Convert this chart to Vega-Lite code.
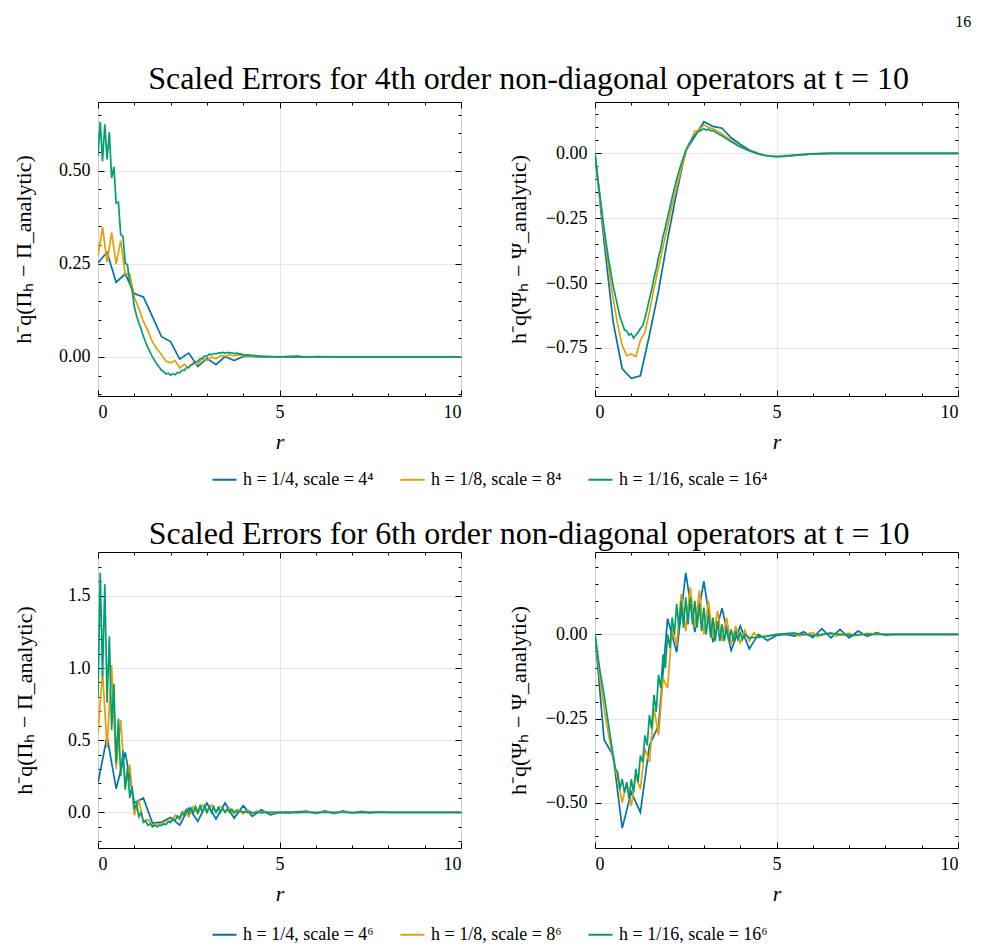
{
"$schema": "https://vega.github.io/schema/vega-lite/v6.json",
"background": "white",
"padding": {"left": 12, "top": 14, "right": 8, "bottom": 5},
"title": {"text": "16", "anchor": "end", "fontSize": 16, "offset": 33, "dx": 10},
"config": {
 "font": "Liberation Serif",
 "view": {"stroke": "black", "strokeWidth": 1},
 "axis": {"labelFont": "Liberation Serif", "titleFont": "Liberation Serif", "labelColor": "black", "titleColor": "black", "tickColor": "black", "tickWidth": 1, "gridColor": "#e4e4e4", "gridWidth": 0.9, "domain": false, "titleFontWeight": "normal", "labelFontSize": 18, "titleFontSize": 22},
 "legend": {"labelFont": "Liberation Serif", "labelFontSize": 18, "labelColor": "black", "symbolType": "stroke", "symbolStrokeWidth": 2, "symbolSize": 580, "columnPadding": 22, "labelOffset": 5, "labelLimit": 400, "orient": "none", "legendX": 113, "legendY": 364, "direction": "horizontal", "title": null},
 "title": {"font": "Liberation Serif", "fontWeight": "normal", "color": "black"}
},
"data": {"values": [
{"p":"A","s":"a","r":0,"v":0.252},{"p":"A","s":"a","r":0.25,"v":0.281},{"p":"A","s":"a","r":0.5,"v":0.2},{"p":"A","s":"a","r":0.75,"v":0.223},{"p":"A","s":"a","r":1,"v":0.17},{"p":"A","s":"a","r":1.25,"v":0.161},{"p":"A","s":"a","r":1.5,"v":0.108},{"p":"A","s":"a","r":1.75,"v":0.054},{"p":"A","s":"a","r":2,"v":0.041},{"p":"A","s":"a","r":2.25,"v":-0.006},{"p":"A","s":"a","r":2.5,"v":0.01},{"p":"A","s":"a","r":2.75,"v":-0.026},{"p":"A","s":"a","r":3,"v":-0.004},{"p":"A","s":"a","r":3.25,"v":-0.021},{"p":"A","s":"a","r":3.5,"v":0.001},{"p":"A","s":"a","r":3.75,"v":-0.01},{"p":"A","s":"a","r":4,"v":0.001},{"p":"A","s":"a","r":4.25,"v":0.001},{"p":"A","s":"a","r":4.5,"v":0},{"p":"A","s":"a","r":5,"v":0},{"p":"A","s":"a","r":5.5,"v":0.002},{"p":"A","s":"a","r":5.75,"v":-0.001},{"p":"A","s":"a","r":6,"v":0.001},{"p":"A","s":"a","r":6.5,"v":0},{"p":"A","s":"a","r":10,"v":0},
{"p":"A","s":"b","r":0,"v":0.27},{"p":"A","s":"b","r":0.125,"v":0.348},{"p":"A","s":"b","r":0.25,"v":0.254},{"p":"A","s":"b","r":0.375,"v":0.334},{"p":"A","s":"b","r":0.5,"v":0.249},{"p":"A","s":"b","r":0.625,"v":0.312},{"p":"A","s":"b","r":0.75,"v":0.222},{"p":"A","s":"b","r":0.875,"v":0.222},{"p":"A","s":"b","r":1,"v":0.16},{"p":"A","s":"b","r":1.125,"v":0.13},{"p":"A","s":"b","r":1.25,"v":0.095},{"p":"A","s":"b","r":1.375,"v":0.07},{"p":"A","s":"b","r":1.5,"v":0.04},{"p":"A","s":"b","r":1.625,"v":0.022},{"p":"A","s":"b","r":1.75,"v":0.006},{"p":"A","s":"b","r":1.875,"v":-0.012},{"p":"A","s":"b","r":2,"v":-0.016},{"p":"A","s":"b","r":2.125,"v":-0.01},{"p":"A","s":"b","r":2.25,"v":-0.03},{"p":"A","s":"b","r":2.375,"v":-0.02},{"p":"A","s":"b","r":2.5,"v":-0.03},{"p":"A","s":"b","r":2.625,"v":-0.015},{"p":"A","s":"b","r":2.75,"v":-0.02},{"p":"A","s":"b","r":2.875,"v":-0.005},{"p":"A","s":"b","r":3,"v":-0.01},{"p":"A","s":"b","r":3.125,"v":0},{"p":"A","s":"b","r":3.25,"v":-0.005},{"p":"A","s":"b","r":3.375,"v":0.003},{"p":"A","s":"b","r":3.5,"v":0.002},{"p":"A","s":"b","r":3.625,"v":0.005},{"p":"A","s":"b","r":3.75,"v":0.003},{"p":"A","s":"b","r":3.875,"v":0.005},{"p":"A","s":"b","r":4,"v":0.003},{"p":"A","s":"b","r":4.25,"v":0.002},{"p":"A","s":"b","r":4.5,"v":0.001},{"p":"A","s":"b","r":5,"v":0},{"p":"A","s":"b","r":10,"v":0},
{"p":"A","s":"c","r":0,"v":0.54},{"p":"A","s":"c","r":0.0625,"v":0.63},{"p":"A","s":"c","r":0.125,"v":0.525},{"p":"A","s":"c","r":0.1875,"v":0.624},{"p":"A","s":"c","r":0.25,"v":0.53},{"p":"A","s":"c","r":0.3125,"v":0.603},{"p":"A","s":"c","r":0.375,"v":0.48},{"p":"A","s":"c","r":0.4375,"v":0.51},{"p":"A","s":"c","r":0.5,"v":0.413},{"p":"A","s":"c","r":0.5625,"v":0.415},{"p":"A","s":"c","r":0.625,"v":0.328},{"p":"A","s":"c","r":0.6875,"v":0.323},{"p":"A","s":"c","r":0.75,"v":0.252},{"p":"A","s":"c","r":0.8125,"v":0.247},{"p":"A","s":"c","r":0.875,"v":0.198},{"p":"A","s":"c","r":0.9375,"v":0.18},{"p":"A","s":"c","r":1,"v":0.135},{"p":"A","s":"c","r":1.0625,"v":0.11},{"p":"A","s":"c","r":1.125,"v":0.09},{"p":"A","s":"c","r":1.1875,"v":0.075},{"p":"A","s":"c","r":1.25,"v":0.055},{"p":"A","s":"c","r":1.3125,"v":0.04},{"p":"A","s":"c","r":1.375,"v":0.025},{"p":"A","s":"c","r":1.4375,"v":0.012},{"p":"A","s":"c","r":1.5,"v":0},{"p":"A","s":"c","r":1.5625,"v":-0.01},{"p":"A","s":"c","r":1.625,"v":-0.02},{"p":"A","s":"c","r":1.6875,"v":-0.028},{"p":"A","s":"c","r":1.75,"v":-0.036},{"p":"A","s":"c","r":1.8125,"v":-0.04},{"p":"A","s":"c","r":1.875,"v":-0.046},{"p":"A","s":"c","r":1.9375,"v":-0.044},{"p":"A","s":"c","r":2,"v":-0.049},{"p":"A","s":"c","r":2.0625,"v":-0.045},{"p":"A","s":"c","r":2.125,"v":-0.048},{"p":"A","s":"c","r":2.1875,"v":-0.042},{"p":"A","s":"c","r":2.25,"v":-0.043},{"p":"A","s":"c","r":2.3125,"v":-0.036},{"p":"A","s":"c","r":2.375,"v":-0.036},{"p":"A","s":"c","r":2.4375,"v":-0.029},{"p":"A","s":"c","r":2.5,"v":-0.028},{"p":"A","s":"c","r":2.5625,"v":-0.021},{"p":"A","s":"c","r":2.625,"v":-0.02},{"p":"A","s":"c","r":2.6875,"v":-0.013},{"p":"A","s":"c","r":2.75,"v":-0.012},{"p":"A","s":"c","r":2.8125,"v":-0.005},{"p":"A","s":"c","r":2.875,"v":-0.004},{"p":"A","s":"c","r":2.9375,"v":0.002},{"p":"A","s":"c","r":3,"v":0.002},{"p":"A","s":"c","r":3.0625,"v":0.007},{"p":"A","s":"c","r":3.125,"v":0.006},{"p":"A","s":"c","r":3.1875,"v":0.009},{"p":"A","s":"c","r":3.25,"v":0.008},{"p":"A","s":"c","r":3.3125,"v":0.011},{"p":"A","s":"c","r":3.375,"v":0.01},{"p":"A","s":"c","r":3.4375,"v":0.012},{"p":"A","s":"c","r":3.5,"v":0.01},{"p":"A","s":"c","r":3.5625,"v":0.012},{"p":"A","s":"c","r":3.625,"v":0.01},{"p":"A","s":"c","r":3.6875,"v":0.011},{"p":"A","s":"c","r":3.75,"v":0.009},{"p":"A","s":"c","r":3.8125,"v":0.01},{"p":"A","s":"c","r":3.875,"v":0.008},{"p":"A","s":"c","r":3.9375,"v":0.008},{"p":"A","s":"c","r":4,"v":0.006},{"p":"A","s":"c","r":4.25,"v":0.004},{"p":"A","s":"c","r":4.5,"v":0.002},{"p":"A","s":"c","r":4.75,"v":0.001},{"p":"A","s":"c","r":5,"v":0},{"p":"A","s":"c","r":10,"v":0},

{"p":"B","s":"a","r":0,"v":0},{"p":"B","s":"a","r":0.25,"v":-0.34},{"p":"B","s":"a","r":0.5,"v":-0.65},{"p":"B","s":"a","r":0.75,"v":-0.83},{"p":"B","s":"a","r":1,"v":-0.867},{"p":"B","s":"a","r":1.25,"v":-0.857},{"p":"B","s":"a","r":1.5,"v":-0.7},{"p":"B","s":"a","r":1.75,"v":-0.53},{"p":"B","s":"a","r":2,"v":-0.33},{"p":"B","s":"a","r":2.25,"v":-0.15},{"p":"B","s":"a","r":2.5,"v":0.01},{"p":"B","s":"a","r":2.75,"v":0.065},{"p":"B","s":"a","r":3,"v":0.122},{"p":"B","s":"a","r":3.25,"v":0.104},{"p":"B","s":"a","r":3.5,"v":0.097},{"p":"B","s":"a","r":3.75,"v":0.06},{"p":"B","s":"a","r":4,"v":0.035},{"p":"B","s":"a","r":4.25,"v":0.013},{"p":"B","s":"a","r":4.5,"v":-0.001},{"p":"B","s":"a","r":4.75,"v":-0.01},{"p":"B","s":"a","r":5,"v":-0.013},{"p":"B","s":"a","r":5.25,"v":-0.012},{"p":"B","s":"a","r":5.5,"v":-0.008},{"p":"B","s":"a","r":5.75,"v":-0.005},{"p":"B","s":"a","r":6,"v":-0.002},{"p":"B","s":"a","r":6.5,"v":0},{"p":"B","s":"a","r":10,"v":0},
{"p":"B","s":"b","r":0,"v":0},{"p":"B","s":"b","r":0.125,"v":-0.16},{"p":"B","s":"b","r":0.25,"v":-0.31},{"p":"B","s":"b","r":0.375,"v":-0.44},{"p":"B","s":"b","r":0.5,"v":-0.56},{"p":"B","s":"b","r":0.625,"v":-0.66},{"p":"B","s":"b","r":0.75,"v":-0.74},{"p":"B","s":"b","r":0.875,"v":-0.78},{"p":"B","s":"b","r":1,"v":-0.773},{"p":"B","s":"b","r":1.125,"v":-0.783},{"p":"B","s":"b","r":1.25,"v":-0.72},{"p":"B","s":"b","r":1.375,"v":-0.69},{"p":"B","s":"b","r":1.5,"v":-0.61},{"p":"B","s":"b","r":1.625,"v":-0.52},{"p":"B","s":"b","r":1.75,"v":-0.44},{"p":"B","s":"b","r":1.875,"v":-0.36},{"p":"B","s":"b","r":2,"v":-0.28},{"p":"B","s":"b","r":2.125,"v":-0.2},{"p":"B","s":"b","r":2.25,"v":-0.13},{"p":"B","s":"b","r":2.375,"v":-0.06},{"p":"B","s":"b","r":2.5,"v":0.005},{"p":"B","s":"b","r":2.625,"v":0.04},{"p":"B","s":"b","r":2.75,"v":0.085},{"p":"B","s":"b","r":2.875,"v":0.09},{"p":"B","s":"b","r":3,"v":0.11},{"p":"B","s":"b","r":3.125,"v":0.1},{"p":"B","s":"b","r":3.25,"v":0.095},{"p":"B","s":"b","r":3.375,"v":0.085},{"p":"B","s":"b","r":3.5,"v":0.075},{"p":"B","s":"b","r":3.625,"v":0.062},{"p":"B","s":"b","r":3.75,"v":0.05},{"p":"B","s":"b","r":3.875,"v":0.038},{"p":"B","s":"b","r":4,"v":0.027},{"p":"B","s":"b","r":4.25,"v":0.01},{"p":"B","s":"b","r":4.5,"v":-0.003},{"p":"B","s":"b","r":4.75,"v":-0.01},{"p":"B","s":"b","r":5,"v":-0.012},{"p":"B","s":"b","r":5.25,"v":-0.011},{"p":"B","s":"b","r":5.5,"v":-0.007},{"p":"B","s":"b","r":6,"v":-0.002},{"p":"B","s":"b","r":6.5,"v":0},{"p":"B","s":"b","r":10,"v":0},
{"p":"B","s":"c","r":0,"v":0},{"p":"B","s":"c","r":0.0625,"v":-0.08},{"p":"B","s":"c","r":0.125,"v":-0.15},{"p":"B","s":"c","r":0.1875,"v":-0.22},{"p":"B","s":"c","r":0.25,"v":-0.29},{"p":"B","s":"c","r":0.3125,"v":-0.35},{"p":"B","s":"c","r":0.375,"v":-0.41},{"p":"B","s":"c","r":0.4375,"v":-0.46},{"p":"B","s":"c","r":0.5,"v":-0.51},{"p":"B","s":"c","r":0.5625,"v":-0.55},{"p":"B","s":"c","r":0.625,"v":-0.59},{"p":"B","s":"c","r":0.6875,"v":-0.63},{"p":"B","s":"c","r":0.75,"v":-0.655},{"p":"B","s":"c","r":0.8125,"v":-0.68},{"p":"B","s":"c","r":0.875,"v":-0.685},{"p":"B","s":"c","r":0.9375,"v":-0.7},{"p":"B","s":"c","r":1,"v":-0.695},{"p":"B","s":"c","r":1.0625,"v":-0.712},{"p":"B","s":"c","r":1.125,"v":-0.7},{"p":"B","s":"c","r":1.1875,"v":-0.69},{"p":"B","s":"c","r":1.25,"v":-0.675},{"p":"B","s":"c","r":1.3125,"v":-0.665},{"p":"B","s":"c","r":1.375,"v":-0.635},{"p":"B","s":"c","r":1.4375,"v":-0.6},{"p":"B","s":"c","r":1.5,"v":-0.56},{"p":"B","s":"c","r":1.5625,"v":-0.525},{"p":"B","s":"c","r":1.625,"v":-0.48},{"p":"B","s":"c","r":1.6875,"v":-0.445},{"p":"B","s":"c","r":1.75,"v":-0.4},{"p":"B","s":"c","r":1.8125,"v":-0.365},{"p":"B","s":"c","r":1.875,"v":-0.32},{"p":"B","s":"c","r":1.9375,"v":-0.285},{"p":"B","s":"c","r":2,"v":-0.245},{"p":"B","s":"c","r":2.0625,"v":-0.21},{"p":"B","s":"c","r":2.125,"v":-0.17},{"p":"B","s":"c","r":2.1875,"v":-0.135},{"p":"B","s":"c","r":2.25,"v":-0.1},{"p":"B","s":"c","r":2.3125,"v":-0.07},{"p":"B","s":"c","r":2.375,"v":-0.04},{"p":"B","s":"c","r":2.4375,"v":-0.015},{"p":"B","s":"c","r":2.5,"v":0.01},{"p":"B","s":"c","r":2.5625,"v":0.03},{"p":"B","s":"c","r":2.625,"v":0.045},{"p":"B","s":"c","r":2.6875,"v":0.06},{"p":"B","s":"c","r":2.75,"v":0.07},{"p":"B","s":"c","r":2.8125,"v":0.08},{"p":"B","s":"c","r":2.875,"v":0.085},{"p":"B","s":"c","r":2.9375,"v":0.09},{"p":"B","s":"c","r":3,"v":0.095},{"p":"B","s":"c","r":3.0625,"v":0.09},{"p":"B","s":"c","r":3.125,"v":0.093},{"p":"B","s":"c","r":3.1875,"v":0.088},{"p":"B","s":"c","r":3.25,"v":0.088},{"p":"B","s":"c","r":3.3125,"v":0.082},{"p":"B","s":"c","r":3.375,"v":0.078},{"p":"B","s":"c","r":3.4375,"v":0.072},{"p":"B","s":"c","r":3.5,"v":0.068},{"p":"B","s":"c","r":3.625,"v":0.056},{"p":"B","s":"c","r":3.75,"v":0.045},{"p":"B","s":"c","r":3.875,"v":0.035},{"p":"B","s":"c","r":4,"v":0.025},{"p":"B","s":"c","r":4.25,"v":0.01},{"p":"B","s":"c","r":4.5,"v":-0.002},{"p":"B","s":"c","r":4.75,"v":-0.009},{"p":"B","s":"c","r":5,"v":-0.012},{"p":"B","s":"c","r":5.5,"v":-0.007},{"p":"B","s":"c","r":6,"v":-0.002},{"p":"B","s":"c","r":6.5,"v":0},{"p":"B","s":"c","r":10,"v":0},

{"p":"C","s":"a","r":0,"v":0.203},{"p":"C","s":"a","r":0.25,"v":0.525},{"p":"C","s":"a","r":0.5,"v":0.164},{"p":"C","s":"a","r":0.75,"v":0.415},{"p":"C","s":"a","r":1,"v":0.065},{"p":"C","s":"a","r":1.25,"v":0.1},{"p":"C","s":"a","r":1.5,"v":-0.074},{"p":"C","s":"a","r":1.75,"v":-0.067},{"p":"C","s":"a","r":2,"v":-0.035},{"p":"C","s":"a","r":2.25,"v":-0.088},{"p":"C","s":"a","r":2.5,"v":0.03},{"p":"C","s":"a","r":2.75,"v":-0.062},{"p":"C","s":"a","r":3,"v":0.065},{"p":"C","s":"a","r":3.25,"v":-0.046},{"p":"C","s":"a","r":3.5,"v":0.065},{"p":"C","s":"a","r":3.75,"v":-0.04},{"p":"C","s":"a","r":4,"v":0.046},{"p":"C","s":"a","r":4.25,"v":-0.028},{"p":"C","s":"a","r":4.5,"v":0.018},{"p":"C","s":"a","r":4.75,"v":-0.018},{"p":"C","s":"a","r":5,"v":0},{"p":"C","s":"a","r":5.25,"v":-0.003},{"p":"C","s":"a","r":5.5,"v":0.003},{"p":"C","s":"a","r":5.75,"v":0.008},{"p":"C","s":"a","r":6,"v":-0.008},{"p":"C","s":"a","r":6.25,"v":0.01},{"p":"C","s":"a","r":6.5,"v":-0.008},{"p":"C","s":"a","r":6.75,"v":0.01},{"p":"C","s":"a","r":7,"v":-0.006},{"p":"C","s":"a","r":7.25,"v":0.006},{"p":"C","s":"a","r":7.5,"v":-0.004},{"p":"C","s":"a","r":7.75,"v":0.004},{"p":"C","s":"a","r":8,"v":0},{"p":"C","s":"a","r":10,"v":0},
{"p":"C","s":"b","r":0,"v":0.55},{"p":"C","s":"b","r":0.125,"v":0.98},{"p":"C","s":"b","r":0.25,"v":0.45},{"p":"C","s":"b","r":0.375,"v":1.02},{"p":"C","s":"b","r":0.5,"v":0.3},{"p":"C","s":"b","r":0.625,"v":0.64},{"p":"C","s":"b","r":0.75,"v":0.18},{"p":"C","s":"b","r":0.875,"v":0.33},{"p":"C","s":"b","r":1,"v":-0.02},{"p":"C","s":"b","r":1.125,"v":0.08},{"p":"C","s":"b","r":1.25,"v":-0.06},{"p":"C","s":"b","r":1.375,"v":-0.05},{"p":"C","s":"b","r":1.5,"v":-0.09},{"p":"C","s":"b","r":1.625,"v":-0.08},{"p":"C","s":"b","r":1.75,"v":-0.08},{"p":"C","s":"b","r":1.875,"v":-0.06},{"p":"C","s":"b","r":2,"v":-0.06},{"p":"C","s":"b","r":2.125,"v":-0.02},{"p":"C","s":"b","r":2.25,"v":-0.05},{"p":"C","s":"b","r":2.375,"v":0.01},{"p":"C","s":"b","r":2.5,"v":-0.03},{"p":"C","s":"b","r":2.625,"v":0.04},{"p":"C","s":"b","r":2.75,"v":-0.01},{"p":"C","s":"b","r":2.875,"v":0.05},{"p":"C","s":"b","r":3,"v":0},{"p":"C","s":"b","r":3.125,"v":0.05},{"p":"C","s":"b","r":3.25,"v":0},{"p":"C","s":"b","r":3.375,"v":0.04},{"p":"C","s":"b","r":3.5,"v":0},{"p":"C","s":"b","r":3.625,"v":0.03},{"p":"C","s":"b","r":3.75,"v":-0.01},{"p":"C","s":"b","r":3.875,"v":0.02},{"p":"C","s":"b","r":4,"v":-0.01},{"p":"C","s":"b","r":4.125,"v":0.015},{"p":"C","s":"b","r":4.25,"v":-0.01},{"p":"C","s":"b","r":4.375,"v":0.01},{"p":"C","s":"b","r":4.5,"v":-0.005},{"p":"C","s":"b","r":4.625,"v":0.005},{"p":"C","s":"b","r":4.75,"v":-0.003},{"p":"C","s":"b","r":5,"v":0},{"p":"C","s":"b","r":5.25,"v":0.003},{"p":"C","s":"b","r":5.5,"v":-0.003},{"p":"C","s":"b","r":5.75,"v":0.004},{"p":"C","s":"b","r":6,"v":-0.004},{"p":"C","s":"b","r":6.25,"v":0.004},{"p":"C","s":"b","r":6.5,"v":-0.004},{"p":"C","s":"b","r":6.75,"v":0.003},{"p":"C","s":"b","r":7,"v":-0.003},{"p":"C","s":"b","r":7.5,"v":0},{"p":"C","s":"b","r":10,"v":0},
{"p":"C","s":"c","r":0,"v":0.8},{"p":"C","s":"c","r":0.0625,"v":1.66},{"p":"C","s":"c","r":0.125,"v":0.94},{"p":"C","s":"c","r":0.1875,"v":1.58},{"p":"C","s":"c","r":0.25,"v":0.76},{"p":"C","s":"c","r":0.3125,"v":1.22},{"p":"C","s":"c","r":0.375,"v":0.57},{"p":"C","s":"c","r":0.4375,"v":0.89},{"p":"C","s":"c","r":0.5,"v":0.34},{"p":"C","s":"c","r":0.5625,"v":0.65},{"p":"C","s":"c","r":0.625,"v":0.25},{"p":"C","s":"c","r":0.6875,"v":0.43},{"p":"C","s":"c","r":0.75,"v":0.157},{"p":"C","s":"c","r":0.8125,"v":0.31},{"p":"C","s":"c","r":0.875,"v":0.1},{"p":"C","s":"c","r":0.9375,"v":0.18},{"p":"C","s":"c","r":1,"v":0.02},{"p":"C","s":"c","r":1.0625,"v":0.06},{"p":"C","s":"c","r":1.125,"v":-0.03},{"p":"C","s":"c","r":1.1875,"v":0},{"p":"C","s":"c","r":1.25,"v":-0.07},{"p":"C","s":"c","r":1.3125,"v":-0.06},{"p":"C","s":"c","r":1.375,"v":-0.09},{"p":"C","s":"c","r":1.4375,"v":-0.08},{"p":"C","s":"c","r":1.5,"v":-0.1},{"p":"C","s":"c","r":1.5625,"v":-0.09},{"p":"C","s":"c","r":1.625,"v":-0.1},{"p":"C","s":"c","r":1.6875,"v":-0.09},{"p":"C","s":"c","r":1.75,"v":-0.09},{"p":"C","s":"c","r":1.8125,"v":-0.08},{"p":"C","s":"c","r":1.875,"v":-0.085},{"p":"C","s":"c","r":1.9375,"v":-0.065},{"p":"C","s":"c","r":2,"v":-0.07},{"p":"C","s":"c","r":2.0625,"v":-0.045},{"p":"C","s":"c","r":2.125,"v":-0.055},{"p":"C","s":"c","r":2.1875,"v":-0.025},{"p":"C","s":"c","r":2.25,"v":-0.04},{"p":"C","s":"c","r":2.3125,"v":0},{"p":"C","s":"c","r":2.375,"v":-0.02},{"p":"C","s":"c","r":2.4375,"v":0.02},{"p":"C","s":"c","r":2.5,"v":-0.01},{"p":"C","s":"c","r":2.5625,"v":0.03},{"p":"C","s":"c","r":2.625,"v":-0.005},{"p":"C","s":"c","r":2.6875,"v":0.04},{"p":"C","s":"c","r":2.75,"v":0},{"p":"C","s":"c","r":2.8125,"v":0.045},{"p":"C","s":"c","r":2.875,"v":0},{"p":"C","s":"c","r":2.9375,"v":0.045},{"p":"C","s":"c","r":3,"v":0},{"p":"C","s":"c","r":3.0625,"v":0.04},{"p":"C","s":"c","r":3.125,"v":0},{"p":"C","s":"c","r":3.1875,"v":0.04},{"p":"C","s":"c","r":3.25,"v":0},{"p":"C","s":"c","r":3.3125,"v":0.035},{"p":"C","s":"c","r":3.375,"v":0},{"p":"C","s":"c","r":3.4375,"v":0.03},{"p":"C","s":"c","r":3.5,"v":0},{"p":"C","s":"c","r":3.5625,"v":0.025},{"p":"C","s":"c","r":3.625,"v":0},{"p":"C","s":"c","r":3.6875,"v":0.02},{"p":"C","s":"c","r":3.75,"v":0},{"p":"C","s":"c","r":3.8125,"v":0.015},{"p":"C","s":"c","r":3.875,"v":0},{"p":"C","s":"c","r":3.9375,"v":0.01},{"p":"C","s":"c","r":4,"v":0},{"p":"C","s":"c","r":4.0625,"v":0.008},{"p":"C","s":"c","r":4.125,"v":-0.002},{"p":"C","s":"c","r":4.1875,"v":0.006},{"p":"C","s":"c","r":4.25,"v":-0.002},{"p":"C","s":"c","r":4.5,"v":0},{"p":"C","s":"c","r":5,"v":0},{"p":"C","s":"c","r":10,"v":0},

{"p":"D","s":"a","r":0,"v":0},{"p":"D","s":"a","r":0.25,"v":-0.313},{"p":"D","s":"a","r":0.5,"v":-0.36},{"p":"D","s":"a","r":0.75,"v":-0.576},{"p":"D","s":"a","r":1,"v":-0.469},{"p":"D","s":"a","r":1.25,"v":-0.529},{"p":"D","s":"a","r":1.5,"v":-0.33},{"p":"D","s":"a","r":1.75,"v":-0.271},{"p":"D","s":"a","r":2,"v":0.047},{"p":"D","s":"a","r":2.25,"v":-0.053},{"p":"D","s":"a","r":2.5,"v":0.183},{"p":"D","s":"a","r":2.75,"v":0.007},{"p":"D","s":"a","r":3,"v":0.158},{"p":"D","s":"a","r":3.25,"v":-0.023},{"p":"D","s":"a","r":3.5,"v":0.078},{"p":"D","s":"a","r":3.75,"v":-0.048},{"p":"D","s":"a","r":4,"v":0.025},{"p":"D","s":"a","r":4.25,"v":-0.043},{"p":"D","s":"a","r":4.5,"v":0},{"p":"D","s":"a","r":4.75,"v":-0.018},{"p":"D","s":"a","r":5,"v":-0.003},{"p":"D","s":"a","r":5.25,"v":0},{"p":"D","s":"a","r":5.5,"v":-0.005},{"p":"D","s":"a","r":5.75,"v":0.008},{"p":"D","s":"a","r":6,"v":-0.01},{"p":"D","s":"a","r":6.25,"v":0.017},{"p":"D","s":"a","r":6.5,"v":-0.01},{"p":"D","s":"a","r":6.75,"v":0.015},{"p":"D","s":"a","r":7,"v":-0.01},{"p":"D","s":"a","r":7.25,"v":0.01},{"p":"D","s":"a","r":7.5,"v":-0.006},{"p":"D","s":"a","r":7.75,"v":0.005},{"p":"D","s":"a","r":8,"v":-0.002},{"p":"D","s":"a","r":8.25,"v":0},{"p":"D","s":"a","r":10,"v":0},
{"p":"D","s":"b","r":0,"v":0},{"p":"D","s":"b","r":0.125,"v":-0.12},{"p":"D","s":"b","r":0.25,"v":-0.22},{"p":"D","s":"b","r":0.375,"v":-0.3},{"p":"D","s":"b","r":0.5,"v":-0.37},{"p":"D","s":"b","r":0.625,"v":-0.43},{"p":"D","s":"b","r":0.75,"v":-0.5},{"p":"D","s":"b","r":0.875,"v":-0.44},{"p":"D","s":"b","r":1,"v":-0.51},{"p":"D","s":"b","r":1.125,"v":-0.42},{"p":"D","s":"b","r":1.25,"v":-0.46},{"p":"D","s":"b","r":1.375,"v":-0.34},{"p":"D","s":"b","r":1.5,"v":-0.38},{"p":"D","s":"b","r":1.625,"v":-0.22},{"p":"D","s":"b","r":1.75,"v":-0.3},{"p":"D","s":"b","r":1.875,"v":-0.13},{"p":"D","s":"b","r":2,"v":-0.16},{"p":"D","s":"b","r":2.125,"v":0.02},{"p":"D","s":"b","r":2.25,"v":-0.03},{"p":"D","s":"b","r":2.375,"v":0.12},{"p":"D","s":"b","r":2.5,"v":0.01},{"p":"D","s":"b","r":2.625,"v":0.14},{"p":"D","s":"b","r":2.75,"v":0.02},{"p":"D","s":"b","r":2.875,"v":0.13},{"p":"D","s":"b","r":3,"v":0},{"p":"D","s":"b","r":3.125,"v":0.1},{"p":"D","s":"b","r":3.25,"v":-0.01},{"p":"D","s":"b","r":3.375,"v":0.07},{"p":"D","s":"b","r":3.5,"v":-0.02},{"p":"D","s":"b","r":3.625,"v":0.05},{"p":"D","s":"b","r":3.75,"v":-0.03},{"p":"D","s":"b","r":3.875,"v":0.025},{"p":"D","s":"b","r":4,"v":-0.025},{"p":"D","s":"b","r":4.125,"v":0.012},{"p":"D","s":"b","r":4.25,"v":-0.02},{"p":"D","s":"b","r":4.375,"v":0.005},{"p":"D","s":"b","r":4.5,"v":-0.01},{"p":"D","s":"b","r":4.75,"v":-0.005},{"p":"D","s":"b","r":5,"v":0},{"p":"D","s":"b","r":5.5,"v":0.005},{"p":"D","s":"b","r":5.625,"v":-0.005},{"p":"D","s":"b","r":6,"v":0.006},{"p":"D","s":"b","r":6.125,"v":-0.006},{"p":"D","s":"b","r":6.5,"v":0.006},{"p":"D","s":"b","r":6.625,"v":-0.005},{"p":"D","s":"b","r":7,"v":0.004},{"p":"D","s":"b","r":7.125,"v":-0.004},{"p":"D","s":"b","r":7.5,"v":0.003},{"p":"D","s":"b","r":8,"v":0},{"p":"D","s":"b","r":10,"v":0},
{"p":"D","s":"c","r":0,"v":0},{"p":"D","s":"c","r":0.125,"v":-0.1},{"p":"D","s":"c","r":0.25,"v":-0.18},{"p":"D","s":"c","r":0.375,"v":-0.27},{"p":"D","s":"c","r":0.5,"v":-0.36},{"p":"D","s":"c","r":0.5625,"v":-0.4},{"p":"D","s":"c","r":0.625,"v":-0.41},{"p":"D","s":"c","r":0.6875,"v":-0.46},{"p":"D","s":"c","r":0.75,"v":-0.43},{"p":"D","s":"c","r":0.8125,"v":-0.47},{"p":"D","s":"c","r":0.875,"v":-0.44},{"p":"D","s":"c","r":0.9375,"v":-0.49},{"p":"D","s":"c","r":1,"v":-0.43},{"p":"D","s":"c","r":1.0625,"v":-0.47},{"p":"D","s":"c","r":1.125,"v":-0.4},{"p":"D","s":"c","r":1.1875,"v":-0.44},{"p":"D","s":"c","r":1.25,"v":-0.36},{"p":"D","s":"c","r":1.3125,"v":-0.38},{"p":"D","s":"c","r":1.375,"v":-0.3},{"p":"D","s":"c","r":1.4375,"v":-0.33},{"p":"D","s":"c","r":1.5,"v":-0.24},{"p":"D","s":"c","r":1.5625,"v":-0.28},{"p":"D","s":"c","r":1.625,"v":-0.18},{"p":"D","s":"c","r":1.6875,"v":-0.23},{"p":"D","s":"c","r":1.75,"v":-0.12},{"p":"D","s":"c","r":1.8125,"v":-0.16},{"p":"D","s":"c","r":1.875,"v":-0.06},{"p":"D","s":"c","r":1.9375,"v":-0.1},{"p":"D","s":"c","r":2,"v":0},{"p":"D","s":"c","r":2.0625,"v":-0.04},{"p":"D","s":"c","r":2.125,"v":0.05},{"p":"D","s":"c","r":2.1875,"v":0},{"p":"D","s":"c","r":2.25,"v":0.09},{"p":"D","s":"c","r":2.3125,"v":0.02},{"p":"D","s":"c","r":2.375,"v":0.1},{"p":"D","s":"c","r":2.4375,"v":0.02},{"p":"D","s":"c","r":2.5,"v":0.11},{"p":"D","s":"c","r":2.5625,"v":0.03},{"p":"D","s":"c","r":2.625,"v":0.11},{"p":"D","s":"c","r":2.6875,"v":0.03},{"p":"D","s":"c","r":2.75,"v":0.1},{"p":"D","s":"c","r":2.8125,"v":0.02},{"p":"D","s":"c","r":2.875,"v":0.09},{"p":"D","s":"c","r":2.9375,"v":0.01},{"p":"D","s":"c","r":3,"v":0.08},{"p":"D","s":"c","r":3.0625,"v":0},{"p":"D","s":"c","r":3.125,"v":0.06},{"p":"D","s":"c","r":3.1875,"v":-0.01},{"p":"D","s":"c","r":3.25,"v":0.05},{"p":"D","s":"c","r":3.3125,"v":-0.02},{"p":"D","s":"c","r":3.375,"v":0.04},{"p":"D","s":"c","r":3.4375,"v":-0.02},{"p":"D","s":"c","r":3.5,"v":0.03},{"p":"D","s":"c","r":3.5625,"v":-0.02},{"p":"D","s":"c","r":3.625,"v":0.02},{"p":"D","s":"c","r":3.6875,"v":-0.02},{"p":"D","s":"c","r":3.75,"v":0.015},{"p":"D","s":"c","r":3.8125,"v":-0.02},{"p":"D","s":"c","r":3.875,"v":0.01},{"p":"D","s":"c","r":3.9375,"v":-0.015},{"p":"D","s":"c","r":4,"v":0.005},{"p":"D","s":"c","r":4.0625,"v":-0.015},{"p":"D","s":"c","r":4.125,"v":0},{"p":"D","s":"c","r":4.25,"v":-0.01},{"p":"D","s":"c","r":4.5,"v":-0.008},{"p":"D","s":"c","r":4.75,"v":-0.005},{"p":"D","s":"c","r":5,"v":0},{"p":"D","s":"c","r":5.5,"v":0.003},{"p":"D","s":"c","r":6,"v":-0.003},{"p":"D","s":"c","r":6.5,"v":0.003},{"p":"D","s":"c","r":7,"v":-0.002},{"p":"D","s":"c","r":7.5,"v":0},{"p":"D","s":"c","r":10,"v":0}
]},
"resolve": {"scale": {"color": "independent"}, "legend": {"color": "independent"}},
"spacing": 29,
"vconcat": [
{
 "title": {"text": "Scaled Errors for 4th order non-diagonal operators at t = 10", "fontSize": 32, "anchor": "middle", "offset": 5, "dx": 42},
 "spacing": 41,
 "hconcat": [
  {
   "width": 363, "height": 294,
   "transform": [{"filter": "datum.p == 'A'"}],
   "resolve": {"axis": {"x": "independent", "y": "independent"}},
   "layer": [
    {"mark": {"type": "line", "strokeWidth": 1.7, "clip": true},
     "encoding": {
      "x": {"field": "r", "type": "quantitative", "scale": {"domain": [0, 10], "nice": false, "zero": false}, "axis": {"values": [0, 5, 10], "format": "d", "title": "r", "titleFontStyle": "italic", "titleFontSize": 22, "titlePadding": 10, "grid": true, "tickSize": -6, "labelPadding": 13}},
      "y": {"field": "v", "type": "quantitative", "scale": {"domain": [-0.105, 0.684], "nice": false, "zero": false}, "axis": {"values": [0, 0.25, 0.5], "format": ".2f", "title": "h⁻q(Πₕ − Π_analytic)", "titlePadding": 23, "grid": true, "tickSize": -6, "labelPadding": 14}},
      "color": {"field": "s", "type": "nominal", "scale": {"domain": ["a", "b", "c"], "range": ["#0072B2", "#E69F00", "#009E73"]}, "legend": {"legendY": 364, "labelExpr": "datum.value == 'a' ? 'h = 1/4, scale = 4⁴' : datum.value == 'b' ? 'h = 1/8, scale = 8⁴' : 'h = 1/16, scale = 16⁴'"}}
     }},
    {"mark": {"type": "point", "opacity": 0},
     "encoding": {
      "x": {"field": "r", "type": "quantitative", "axis": {"orient": "top", "values": [0, 5, 10], "labels": false, "title": null, "grid": false, "tickSize": -6}},
      "y": {"field": "v", "type": "quantitative", "axis": {"orient": "right", "values": [0, 0.25, 0.5], "labels": false, "title": null, "grid": false, "tickSize": -6}}
     }},
    {"mark": {"type": "point", "opacity": 0},
     "encoding": {
      "x": {"field": "r", "type": "quantitative", "axis": {"orient": "bottom", "values": [1, 2, 3, 4, 6, 7, 8, 9], "labels": false, "title": null, "grid": false, "tickSize": -3}},
      "y": {"field": "v", "type": "quantitative", "axis": {"orient": "left", "values": [-0.1, -0.05, 0.05, 0.1, 0.15, 0.2, 0.3, 0.35, 0.4, 0.45, 0.55, 0.6, 0.65], "labels": false, "title": null, "grid": false, "tickSize": -3}}
     }},
    {"mark": {"type": "point", "opacity": 0},
     "encoding": {
      "x": {"field": "r", "type": "quantitative", "axis": {"orient": "top", "values": [1, 2, 3, 4, 6, 7, 8, 9], "labels": false, "title": null, "grid": false, "tickSize": -3}},
      "y": {"field": "v", "type": "quantitative", "axis": {"orient": "right", "values": [-0.1, -0.05, 0.05, 0.1, 0.15, 0.2, 0.3, 0.35, 0.4, 0.45, 0.55, 0.6, 0.65], "labels": false, "title": null, "grid": false, "tickSize": -3}}
     }}
   ]
  },
  {
   "width": 363, "height": 294,
   "transform": [{"filter": "datum.p == 'B'"}],
   "resolve": {"axis": {"x": "independent", "y": "independent"}},
   "layer": [
    {"mark": {"type": "line", "strokeWidth": 1.7, "clip": true},
     "encoding": {
      "x": {"field": "r", "type": "quantitative", "scale": {"domain": [0, 10], "nice": false, "zero": false}, "axis": {"values": [0, 5, 10], "format": "d", "title": "r", "titleFontStyle": "italic", "titleFontSize": 22, "titlePadding": 10, "grid": true, "tickSize": -6, "labelPadding": 13}},
      "y": {"field": "v", "type": "quantitative", "scale": {"domain": [-0.935, 0.198], "nice": false, "zero": false}, "axis": {"values": [-0.75, -0.5, -0.25, 0], "format": ".2f", "title": "h⁻q(Ψₕ − Ψ_analytic)", "titlePadding": 15, "grid": true, "tickSize": -6, "labelPadding": 14}},
      "color": {"field": "s", "type": "nominal", "scale": {"domain": ["a", "b", "c"], "range": ["#0072B2", "#E69F00", "#009E73"]}, "legend": {"legendY": 364, "labelExpr": "datum.value == 'a' ? 'h = 1/4, scale = 4⁴' : datum.value == 'b' ? 'h = 1/8, scale = 8⁴' : 'h = 1/16, scale = 16⁴'"}}
     }},
    {"mark": {"type": "point", "opacity": 0},
     "encoding": {
      "x": {"field": "r", "type": "quantitative", "axis": {"orient": "top", "values": [0, 5, 10], "labels": false, "title": null, "grid": false, "tickSize": -6}},
      "y": {"field": "v", "type": "quantitative", "axis": {"orient": "right", "values": [-0.75, -0.5, -0.25, 0], "labels": false, "title": null, "grid": false, "tickSize": -6}}
     }},
    {"mark": {"type": "point", "opacity": 0},
     "encoding": {
      "x": {"field": "r", "type": "quantitative", "axis": {"orient": "bottom", "values": [1, 2, 3, 4, 6, 7, 8, 9], "labels": false, "title": null, "grid": false, "tickSize": -3}},
      "y": {"field": "v", "type": "quantitative", "axis": {"orient": "left", "values": [-0.9, -0.85, -0.8, -0.7, -0.65, -0.6, -0.55, -0.45, -0.4, -0.35, -0.3, -0.2, -0.15, -0.1, -0.05, 0.05, 0.1, 0.15], "labels": false, "title": null, "grid": false, "tickSize": -3}}
     }},
    {"mark": {"type": "point", "opacity": 0},
     "encoding": {
      "x": {"field": "r", "type": "quantitative", "axis": {"orient": "top", "values": [1, 2, 3, 4, 6, 7, 8, 9], "labels": false, "title": null, "grid": false, "tickSize": -3}},
      "y": {"field": "v", "type": "quantitative", "axis": {"orient": "right", "values": [-0.9, -0.85, -0.8, -0.7, -0.65, -0.6, -0.55, -0.45, -0.4, -0.35, -0.3, -0.2, -0.15, -0.1, -0.05, 0.05, 0.1, 0.15], "labels": false, "title": null, "grid": false, "tickSize": -3}}
     }}
   ]
  }
 ]
},
{
 "title": {"text": "Scaled Errors for 6th order non-diagonal operators at t = 10", "fontSize": 32, "anchor": "middle", "offset": 0, "dx": 42},
 "spacing": 41,
 "hconcat": [
  {
   "width": 363, "height": 296,
   "transform": [{"filter": "datum.p == 'C'"}],
   "resolve": {"axis": {"x": "independent", "y": "independent"}},
   "layer": [
    {"mark": {"type": "line", "strokeWidth": 1.7, "clip": true},
     "encoding": {
      "x": {"field": "r", "type": "quantitative", "scale": {"domain": [0, 10], "nice": false, "zero": false}, "axis": {"values": [0, 5, 10], "format": "d", "title": "r", "titleFontStyle": "italic", "titleFontSize": 22, "titlePadding": 10, "grid": true, "tickSize": -6, "labelPadding": 13}},
      "y": {"field": "v", "type": "quantitative", "scale": {"domain": [-0.247, 1.804], "nice": false, "zero": false}, "axis": {"values": [0, 0.5, 1, 1.5], "format": ".1f", "title": "h⁻q(Πₕ − Π_analytic)", "titlePadding": 31, "grid": true, "tickSize": -6, "labelPadding": 14}},
      "color": {"field": "s", "type": "nominal", "scale": {"domain": ["a", "b", "c"], "range": ["#0072B2", "#E69F00", "#009E73"]}, "legend": {"legendY": 369, "labelExpr": "datum.value == 'a' ? 'h = 1/4, scale = 4⁶' : datum.value == 'b' ? 'h = 1/8, scale = 8⁶' : 'h = 1/16, scale = 16⁶'"}}
     }},
    {"mark": {"type": "point", "opacity": 0},
     "encoding": {
      "x": {"field": "r", "type": "quantitative", "axis": {"orient": "top", "values": [0, 5, 10], "labels": false, "title": null, "grid": false, "tickSize": -6}},
      "y": {"field": "v", "type": "quantitative", "axis": {"orient": "right", "values": [0, 0.5, 1, 1.5], "labels": false, "title": null, "grid": false, "tickSize": -6}}
     }},
    {"mark": {"type": "point", "opacity": 0},
     "encoding": {
      "x": {"field": "r", "type": "quantitative", "axis": {"orient": "bottom", "values": [1, 2, 3, 4, 6, 7, 8, 9], "labels": false, "title": null, "grid": false, "tickSize": -3}},
      "y": {"field": "v", "type": "quantitative", "axis": {"orient": "left", "values": [-0.2, -0.1, 0.1, 0.2, 0.3, 0.4, 0.6, 0.7, 0.8, 0.9, 1.1, 1.2, 1.3, 1.4, 1.6, 1.7], "labels": false, "title": null, "grid": false, "tickSize": -3}}
     }},
    {"mark": {"type": "point", "opacity": 0},
     "encoding": {
      "x": {"field": "r", "type": "quantitative", "axis": {"orient": "top", "values": [1, 2, 3, 4, 6, 7, 8, 9], "labels": false, "title": null, "grid": false, "tickSize": -3}},
      "y": {"field": "v", "type": "quantitative", "axis": {"orient": "right", "values": [-0.2, -0.1, 0.1, 0.2, 0.3, 0.4, 0.6, 0.7, 0.8, 0.9, 1.1, 1.2, 1.3, 1.4, 1.6, 1.7], "labels": false, "title": null, "grid": false, "tickSize": -3}}
     }}
   ]
  },
  {
   "width": 363, "height": 296,
   "transform": [{"filter": "datum.p == 'D'"}],
   "resolve": {"axis": {"x": "independent", "y": "independent"}},
   "layer": [
    {"mark": {"type": "line", "strokeWidth": 1.7, "clip": true},
     "encoding": {
      "x": {"field": "r", "type": "quantitative", "scale": {"domain": [0, 10], "nice": false, "zero": false}, "axis": {"values": [0, 5, 10], "format": "d", "title": "r", "titleFontStyle": "italic", "titleFontSize": 22, "titlePadding": 10, "grid": true, "tickSize": -6, "labelPadding": 13}},
      "y": {"field": "v", "type": "quantitative", "scale": {"domain": [-0.635, 0.245], "nice": false, "zero": false}, "axis": {"values": [-0.5, -0.25, 0], "format": ".2f", "title": "h⁻q(Ψₕ − Ψ_analytic)", "titlePadding": 15, "grid": true, "tickSize": -6, "labelPadding": 14}},
      "color": {"field": "s", "type": "nominal", "scale": {"domain": ["a", "b", "c"], "range": ["#0072B2", "#E69F00", "#009E73"]}, "legend": {"legendY": 369, "labelExpr": "datum.value == 'a' ? 'h = 1/4, scale = 4⁶' : datum.value == 'b' ? 'h = 1/8, scale = 8⁶' : 'h = 1/16, scale = 16⁶'"}}
     }},
    {"mark": {"type": "point", "opacity": 0},
     "encoding": {
      "x": {"field": "r", "type": "quantitative", "axis": {"orient": "top", "values": [0, 5, 10], "labels": false, "title": null, "grid": false, "tickSize": -6}},
      "y": {"field": "v", "type": "quantitative", "axis": {"orient": "right", "values": [-0.5, -0.25, 0], "labels": false, "title": null, "grid": false, "tickSize": -6}}
     }},
    {"mark": {"type": "point", "opacity": 0},
     "encoding": {
      "x": {"field": "r", "type": "quantitative", "axis": {"orient": "bottom", "values": [1, 2, 3, 4, 6, 7, 8, 9], "labels": false, "title": null, "grid": false, "tickSize": -3}},
      "y": {"field": "v", "type": "quantitative", "axis": {"orient": "left", "values": [-0.6, -0.55, -0.45, -0.4, -0.35, -0.3, -0.2, -0.15, -0.1, -0.05, 0.05, 0.1, 0.15, 0.2], "labels": false, "title": null, "grid": false, "tickSize": -3}}
     }},
    {"mark": {"type": "point", "opacity": 0},
     "encoding": {
      "x": {"field": "r", "type": "quantitative", "axis": {"orient": "top", "values": [1, 2, 3, 4, 6, 7, 8, 9], "labels": false, "title": null, "grid": false, "tickSize": -3}},
      "y": {"field": "v", "type": "quantitative", "axis": {"orient": "right", "values": [-0.6, -0.55, -0.45, -0.4, -0.35, -0.3, -0.2, -0.15, -0.1, -0.05, 0.05, 0.1, 0.15, 0.2], "labels": false, "title": null, "grid": false, "tickSize": -3}}
     }}
   ]
  }
 ]
}
]
}
